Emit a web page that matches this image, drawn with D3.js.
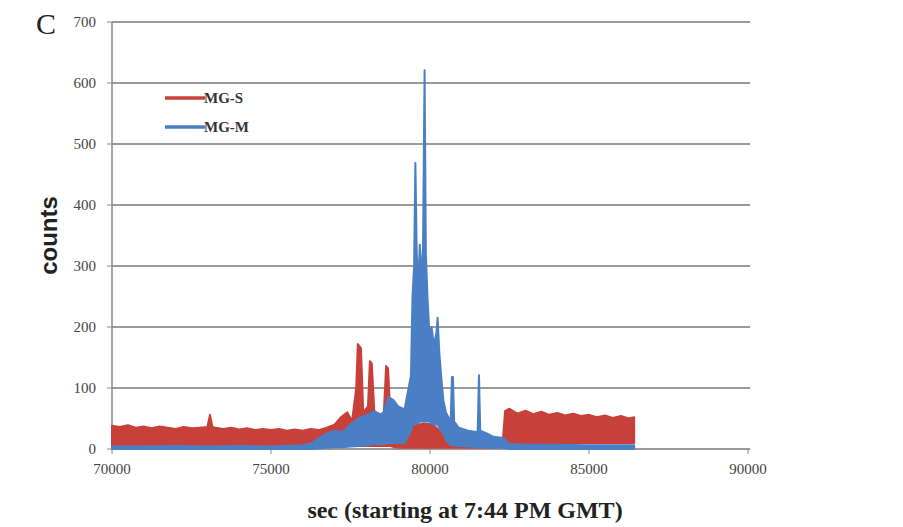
<!DOCTYPE html>
<html>
<head>
<meta charset="utf-8">
<script src="https://cdn.jsdelivr.net/npm/d3@7"></script>
<style>
  body { margin: 0; background: #fff; }
  svg { display: block; }
</style>
</head>
<body>
<div id="chart"></div>
<script>
// MG-S (red) envelope: time, top and bottom of the noisy band
var sTime = [70000, 70250, 70500, 70750, 71000, 71250, 71500, 71750, 72000, 72250, 72500, 72750, 73000, 73080, 73160,
  73250, 73500, 73750, 74000, 74250, 74500, 74750, 75000, 75250, 75500, 75750, 76000, 76250, 76500, 76750, 77000,
  77200, 77400, 77550, 77680, 77730, 77830, 77900, 78050, 78110, 78170, 78250, 78400, 78550, 78620, 78680, 78750,
  78900, 79100, 79300, 79500, 79800, 80100, 80400, 80700, 81000, 81500, 82000, 82300, 82360, 82500, 82750, 83000,
  83250, 83500, 83750, 84000, 84250, 84500, 84750, 85000, 85250, 85500, 85750, 86000, 86250, 86420];
var sHigh = [38, 36, 39, 35, 37, 34, 37, 35, 33, 36, 34, 35, 36, 56, 36,
  35, 33, 35, 32, 34, 31, 33, 31, 33, 30, 32, 30, 33, 31, 35, 40,
  52, 60, 46, 100, 172, 165, 60, 70, 144, 140, 60, 55, 60, 136, 132, 60,
  45, 35, 30, 38, 42, 40, 25, 15, 12, 10, 12, 20, 62, 66, 58, 63,
  57, 61, 56, 59, 55, 58, 54, 56, 52, 55, 51, 54, 50, 52];
var sLow = [4, 4, 4, 4, 4, 4, 4, 4, 4, 4, 4, 4, 4, 4, 4,
  4, 4, 4, 4, 4, 4, 4, 4, 4, 4, 4, 4, 4, 4, 4, 4,
  5, 5, 5, 5, 5, 5, 5, 5, 5, 5, 5, 5, 5, 5, 5, 5,
  3, 2, 2, 2, 2, 2, 2, 2, 2, 2, 2, 4, 10, 10, 10, 10,
  10, 10, 10, 10, 10, 10, 10, 10, 10, 10, 10, 10, 10, 10];

// MG-M (blue) envelope
var mTime = [70000, 71000, 72000, 73000, 74000, 75000, 76000, 76300, 76500, 76750, 77000, 77250, 77500, 77750, 78000,
  78250, 78500, 78700, 78850, 79000, 79200, 79400, 79450, 79500, 79540, 79580, 79620, 79680, 79720, 79780, 79830,
  79870, 79920, 79980, 80050, 80120, 80200, 80240, 80290, 80350, 80420, 80500, 80650, 80690, 80720, 80760, 80900,
  81200, 81450, 81500, 81540, 81580, 81800, 82000, 82300, 82500, 83000, 84000, 85000, 86000, 86420];
var mHigh = [4, 4, 5, 4, 5, 4, 6, 10, 18, 25, 30, 28, 40, 50, 55,
  62, 55, 85, 80, 70, 65, 120, 250, 300, 469, 330, 260, 335, 280, 330, 621,
  320, 250, 190, 200, 170, 190, 215, 160, 120, 80, 60, 45, 118, 118, 45, 35,
  30, 28, 30, 121, 30, 25, 20, 18, 8, 7, 7, 6, 6, 6];
var mLow = [0, 0, 0, 0, 0, 0, 0, 0, 1, 2, 3, 3, 4, 5, 6,
  8, 8, 10, 10, 10, 10, 30, 40, 40, 42, 42, 42, 45, 45, 45, 45,
  45, 45, 45, 42, 40, 40, 40, 35, 30, 25, 15, 6, 6, 6, 6, 5,
  4, 3, 3, 3, 3, 2, 2, 2, 0, 0, 0, 0, 0, 0];

var yTicks = [0, 100, 200, 300, 400, 500, 600, 700];
var xTicks = [70000, 75000, 80000, 85000, 90000];
var seriesNames = ["MG-S", "MG-M"];
var seriesColors = ["#c8403a", "#4a7fc6"];

var width = 903, height = 527;
var margin = {top: 22, right: 155, bottom: 78, left: 112};

var svg = d3.select("#chart")
  .append("svg")
    .attr("width", width)
    .attr("height", height);

var x = d3.scaleLinear()
  .domain([70000, 90000])
  .range([margin.left, width - margin.right]);

var y = d3.scaleLinear()
  .domain([0, 700])
  .range([height - margin.bottom, margin.top]);

// gridlines
svg.append("g")
  .selectAll("line")
  .data(yTicks)
  .enter().append("line")
    .attr("x1", x(70000))
    .attr("x2", x(90000) + 2)
    .attr("y1", function(d) { return y(d); })
    .attr("y2", function(d) { return y(d); })
    .attr("stroke", "#9a9a9a")
    .attr("stroke-width", 2);

// y axis line + ticks
svg.append("line")
  .attr("x1", x(70000)).attr("x2", x(70000))
  .attr("y1", y(700)).attr("y2", y(0))
  .attr("stroke", "#8a8a8a").attr("stroke-width", 1.5);

svg.append("g")
  .selectAll("line")
  .data(yTicks)
  .enter().append("line")
    .attr("x1", x(70000) - 5)
    .attr("x2", x(70000))
    .attr("y1", function(d) { return y(d); })
    .attr("y2", function(d) { return y(d); })
    .attr("stroke", "#8a8a8a");

svg.append("g")
  .selectAll("text")
  .data(yTicks)
  .enter().append("text")
    .attr("x", x(70000) - 16)
    .attr("y", function(d) { return y(d); })
    .attr("dy", "0.35em")
    .attr("text-anchor", "end")
    .attr("font-family", "Liberation Serif, serif")
    .attr("font-size", 15)
    .attr("fill", "#444")
    .text(function(d) { return d; });

// x ticks
svg.append("g")
  .selectAll("line")
  .data(xTicks)
  .enter().append("line")
    .attr("x1", function(d) { return x(d); })
    .attr("x2", function(d) { return x(d); })
    .attr("y1", y(0))
    .attr("y2", y(0) + 5)
    .attr("stroke", "#8a8a8a");

svg.append("g")
  .selectAll("text")
  .data(xTicks)
  .enter().append("text")
    .attr("x", function(d) { return x(d); })
    .attr("y", y(0) + 25)
    .attr("text-anchor", "middle")
    .attr("font-family", "Liberation Serif, serif")
    .attr("font-size", 15)
    .attr("fill", "#444")
    .text(function(d) { return d; });

// series as filled noisy bands
var series = [
  {time: sTime, hi: sHigh, lo: sLow, color: seriesColors[0]},
  {time: mTime, hi: mHigh, lo: mLow, color: seriesColors[1]}
];

series.forEach(function(s) {
  var pts = s.time.map(function(t, i) { return {t: t, hi: s.hi[i], lo: s.lo[i]}; });
  var area = d3.area()
    .x(function(d) { return x(d.t); })
    .y0(function(d) { return y(d.lo); })
    .y1(function(d) { return y(d.hi); });
  svg.append("path")
    .datum(pts)
    .attr("d", area)
    .attr("fill", s.color)
    .attr("stroke", s.color)
    .attr("stroke-width", 2)
    .attr("stroke-linejoin", "round");
});

// legend
seriesNames.forEach(function(name, i) {
  var ly = 98 + i * 29;
  svg.append("line")
    .attr("x1", 165).attr("x2", 205)
    .attr("y1", ly).attr("y2", ly)
    .attr("stroke", seriesColors[i])
    .attr("stroke-width", 3.5);
  svg.append("text")
    .attr("x", 204)
    .attr("y", ly)
    .attr("dy", "0.35em")
    .attr("font-family", "Liberation Serif, serif")
    .attr("font-weight", "bold")
    .attr("font-size", 15)
    .attr("fill", "#333")
    .text(name);
});

// panel letter
svg.append("text")
  .attr("x", 36).attr("y", 34)
  .attr("font-family", "Liberation Serif, serif")
  .attr("font-size", 30)
  .attr("fill", "#222")
  .text("C");

// axis titles
svg.append("text")
  .attr("transform", "translate(57," + y(350) + ") rotate(-90)")
  .attr("text-anchor", "middle")
  .attr("font-family", "Liberation Sans, Arial, sans-serif")
  .attr("font-weight", "bold")
  .attr("font-size", 24)
  .attr("fill", "#222")
  .text("counts");

svg.append("text")
  .attr("x", 465)
  .attr("y", 518)
  .attr("text-anchor", "middle")
  .attr("font-family", "Liberation Serif, serif")
  .attr("font-weight", "bold")
  .attr("font-size", 24)
  .attr("fill", "#222")
  .text("sec (starting at 7:44 PM GMT)");
</script>
</body>
</html>
